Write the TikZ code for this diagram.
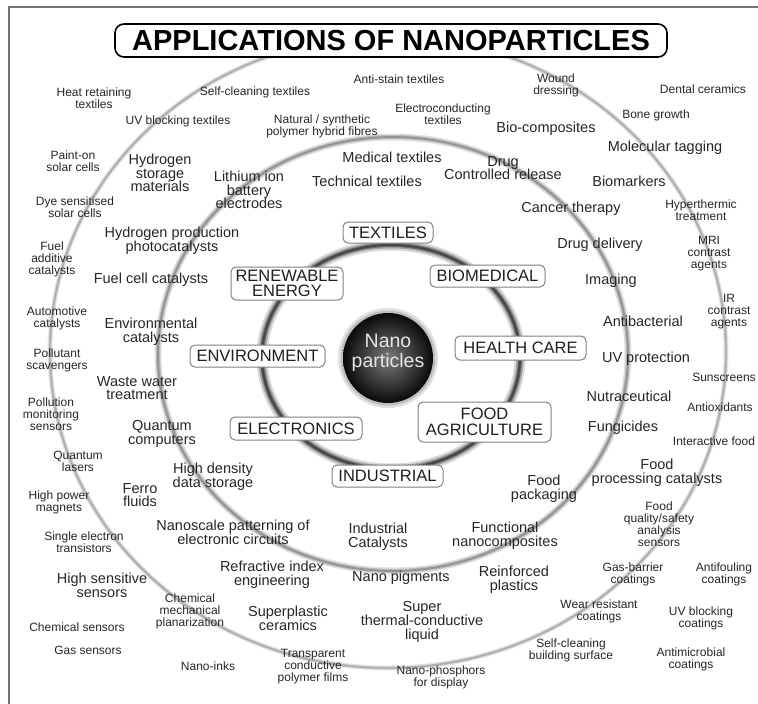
\documentclass[tikz,border=0pt]{standalone}
\usepackage{fontspec}
\setmainfont{Liberation Sans}
\begin{document}
\begin{tikzpicture}[x=1pt,y=-1pt,
  sm/.style={font=\fontsize{12}{12}\selectfont, align=center, text=black!85, inner sep=0pt},
  md/.style={font=\fontsize{14.5}{13.8}\selectfont, align=center, text=black!85, inner sep=0pt},
  cat/.style={draw=black!50, line width=1pt, rounded corners=5pt, fill=white, text=black!88,
    font=\fontsize{16.5}{15.5}\selectfont, align=center, inner sep=0pt}]
\useasboundingbox (0,0) rectangle (758,704);
\fill[white] (0,0) rectangle (758,704);
% frame
\draw[black!55, line width=1.5pt] (9,704) -- (9,7) -- (758,7);
% outer ring
\draw[black!10, line width=5pt] (388,352) ellipse [x radius=338pt, y radius=316pt];
\draw[black!25, line width=2.6pt] (388,352) ellipse [x radius=338pt, y radius=316pt];
\draw[black!32, line width=1.2pt] (388,352) ellipse [x radius=338pt, y radius=316pt];
% middle ring
\draw[black!12, line width=7pt] (393,354) ellipse [x radius=235pt, y radius=217pt];
\draw[black!28, line width=4pt] (393,354) ellipse [x radius=235pt, y radius=217pt];
\draw[black!42, line width=1.8pt] (393,354) ellipse [x radius=235pt, y radius=217pt];
% inner ring
\draw[black!15, line width=11pt] (391,357) ellipse [x radius=129pt, y radius=112pt];
\draw[black!35, line width=7pt] (391,357) ellipse [x radius=129pt, y radius=112pt];
\draw[black!58, line width=4pt] (391,357) ellipse [x radius=129pt, y radius=112pt];
\draw[black!72, line width=2pt] (391,357) ellipse [x radius=129pt, y radius=112pt];
% centre ball
\fill[black!12] (388,358) circle [radius=50pt];
\fill[black!25] (388,358) circle [radius=47.5pt];
\node[circle, minimum size=90pt, inner sep=0pt, shade, inner color=black!52, outer color=black!96] (ball) at (388,358) {};
\node[font=\fontsize{19.5}{20}\selectfont, align=center, text=black!10, inner sep=0pt] (np) at (388,353) {Nano\\particles};
% title
\node[draw=black, line width=1.6pt, rounded corners=9pt, fill=white, minimum width=552pt, minimum height=33pt,
  inner sep=0pt, font=\bfseries\fontsize{29}{29}\selectfont] (title) at (391,40.5) {APPLICATIONS OF NANOPARTICLES};
% categories
\node[cat, minimum width=90pt, minimum height=21pt] (textiles) at (388,232.5) {TEXTILES};
\node[cat, minimum width=115pt, minimum height=22pt] (biomed) at (487.5,276) {BIOMEDICAL};
\node[cat, minimum width=112pt, minimum height=33pt] (renew) at (287,283.5) {RENEWABLE\\ENERGY};
\node[cat, minimum width=135pt, minimum height=22pt] (env) at (257.5,356) {ENVIRONMENT};
\node[cat, minimum width=131pt, minimum height=24pt] (health) at (520.5,348) {HEALTH CARE};
\node[cat, minimum width=132pt, minimum height=23pt] (elec) at (296,428.5) {ELECTRONICS};
\node[cat, minimum width=133pt, minimum height=40pt, font=\fontsize{16.5}{16.5}\selectfont] (food) at (484.5,422) {FOOD\\AGRICULTURE};
\node[cat, minimum width=111pt, minimum height=22pt] (indus) at (387.5,476) {INDUSTRIAL};
% small labels
\node[sm] (s1) at (94,98) {Heat retaining\\textiles};
\node[sm] (s2) at (255,92) {Self-cleaning textiles};
\node[sm] (s3) at (178,121) {UV blocking textiles};
\node[sm] (s4) at (322,126) {Natural / synthetic\\polymer hybrid fibres};
\node[sm] (s5) at (73,161) {Paint-on\\solar cells};
\node[sm] (s6) at (75,207) {Dye sensitised\\solar cells};
\node[sm] (s7) at (52,259) {Fuel\\additive\\catalysts};
\node[sm] (s8) at (57,318) {Automotive\\catalysts};
\node[sm] (s9) at (57,360) {Pollutant\\scavengers};
\node[sm] (s10) at (51,414) {Pollution\\monitoring\\sensors};
\node[sm] (s11) at (78,461) {Quantum\\lasers};
\node[sm] (s12) at (59,502) {High power\\magnets};
\node[sm] (s13) at (84,542) {Single electron\\transistors};
\node[sm] (s14) at (190,611) {Chemical\\mechanical\\planarization};
\node[sm] (s15) at (77,627) {Chemical sensors};
\node[sm] (s16) at (88,650) {Gas sensors};
\node[sm] (s17) at (208,666) {Nano-inks};
\node[sm] (s18) at (313,667) {Transparent\\conductive\\polymer films};
\node[sm] (s19) at (441,677) {Nano-phosphors\\for display};
\node[sm] (s20) at (659,524) {Food\\quality/safety\\analysis\\sensors};
\node[sm] (s21) at (633,574) {Gas-barrier\\coatings};
\node[sm] (s22) at (724,574) {Antifouling\\coatings};
\node[sm] (s23) at (599,611) {Wear resistant\\coatings};
\node[sm] (s24) at (701,618) {UV blocking\\coatings};
\node[sm] (s25) at (571,650) {Self-cleaning\\building surface};
\node[sm] (s26) at (691,659) {Antimicrobial\\coatings};
\node[sm] (s27) at (709,254) {MRI\\contrast\\agents};
\node[sm] (s28) at (729,312) {IR\\contrast\\agents};
\node[sm] (s29) at (724,377) {Sunscreens};
\node[sm] (s30) at (720,407) {Antioxidants};
\node[sm] (s31) at (714,441) {Interactive food};
\node[sm] (s32) at (399,79) {Anti-stain textiles};
\node[sm] (s33) at (556,85) {Wound\\dressing};
\node[sm] (s34) at (703,89) {Dental ceramics};
\node[sm] (s35) at (443,114) {Electroconducting\\textiles};
\node[sm] (s36) at (656,115) {Bone growth};
\node[sm] (s37) at (701,210) {Hyperthermic\\treatment};
% medium labels
\node[md] (m1) at (160,173) {Hydrogen\\storage\\materials};
\node[md] (m2) at (249,190) {Lithium ion\\battery\\electrodes};
\node[md] (m3) at (172,241) {Hydrogen production\\photocatalysts};
\node[md] (m4) at (151,280) {Fuel cell catalysts};
\node[md] (m5) at (151,332) {Environmental\\catalysts};
\node[md] (m6) at (137,388) {Waste water\\treatment};
\node[md] (m7) at (162,434) {Quantum\\computers};
\node[md] (m8) at (213,477) {High density\\data storage};
\node[md] (m9) at (140,495) {Ferro\\fluids};
\node[md] (m10) at (233,532) {Nanoscale patterning of\\electronic circuits};
\node[md] (m11) at (102,585) {High sensitive\\sensors};
\node[md] (m12) at (272,575) {Refractive index\\engineering};
\node[md] (m13) at (288,618) {Superplastic\\ceramics};
\node[md] (m14) at (378,537) {Industrial\\Catalysts};
\node[md] (m15) at (401,578) {Nano pigments};
\node[md] (m16) at (514,580) {Reinforced\\plastics};
\node[md] (m17) at (422,622) {Super\\thermal-conductive\\liquid};
\node[md] (m18) at (544,489) {Food\\packaging};
\node[md] (m19) at (657,473) {Food\\processing catalysts};
\node[md] (m20) at (505,536) {Functional\\nanocomposites};
\node[md] (m21) at (600,245) {Drug delivery};
\node[md] (m22) at (611,281) {Imaging};
\node[md] (m23) at (643,321) {Antibacterial};
\node[md] (m24) at (646,359) {UV protection};
\node[md] (m25) at (629,396) {Nutraceutical};
\node[md] (m26) at (623,428) {Fungicides};
\node[md] (m27) at (546,129) {Bio-composites};
\node[md] (m28) at (665,148) {Molecular tagging};
\node[md] (m29) at (392,157) {Medical textiles};
\node[md] (m30) at (503,168) {Drug\\Controlled release};
\node[md] (m31) at (367,181) {Technical textiles};
\node[md] (m32) at (629,181) {Biomarkers};
\node[md] (m33) at (571,209) {Cancer therapy};
\end{tikzpicture}
\end{document}
